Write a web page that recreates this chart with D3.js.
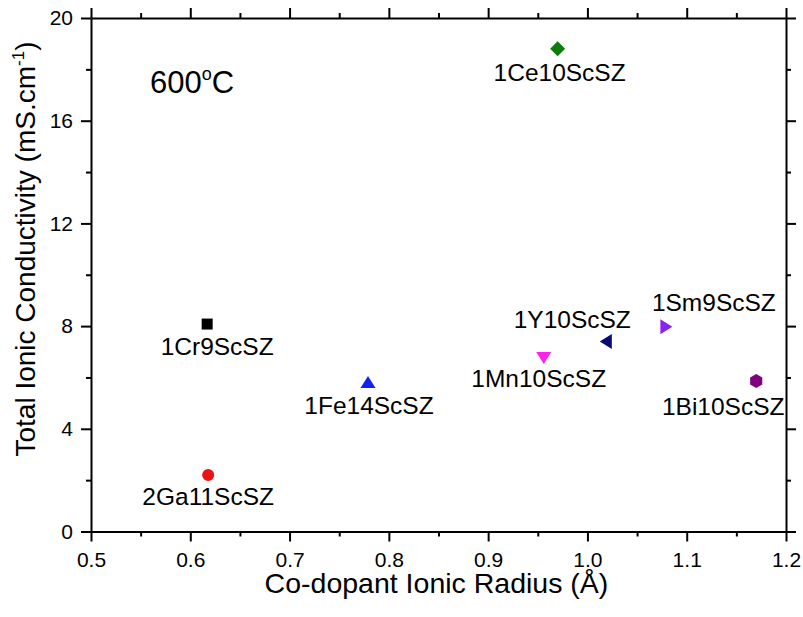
<!DOCTYPE html>
<html>
<head>
<meta charset="utf-8">
<script src="https://cdn.jsdelivr.net/npm/d3@7"></script>
<style>
  html, body { margin: 0; padding: 0; background: #fff; }
  text { font-family: "Liberation Sans", Arial, sans-serif; fill: #000; }
</style>
</head>
<body>
<svg id="chart" width="803" height="617"></svg>
<script>
// ---- data ----
const samples = ["1Cr9ScSZ", "2Ga11ScSZ", "1Fe14ScSZ", "1Ce10ScSZ", "1Mn10ScSZ", "1Y10ScSZ", "1Sm9ScSZ", "1Bi10ScSZ"];
const radius = [0.617, 0.618, 0.779, 0.97, 0.956, 1.019, 1.079, 1.17];
const conductivity = [8.08, 2.2, 5.8, 18.8, 6.78, 7.4, 7.97, 5.86];
const xTicks = [0.5, 0.6, 0.7, 0.8, 0.9, 1.0, 1.1, 1.2];
const yTicks = [0, 4, 8, 12, 16, 20];

// ---- styling / layout (kept separate from data) ----
const markers = ["square", "circle", "triangle", "diamond", "triangleDown", "triangleLeft", "triangleRight", "hexagon"];
const colors = ["#000000", "#ee1111", "#1122ee", "#0a7d0a", "#ff22ee", "#0a0a70", "#8a22f0", "#800080"];
const labelOffsets = [[10, 31], [0, 30], [1, 31], [2, 32], [-5, 30], [-34, -14], [48, -16], [-33, 34]];

const W = 803, H = 617;
const m = { left: 91, right: 17, top: 18, bottom: 85.5 };
const svg = d3.select("#chart");

const x = d3.scaleLinear().domain([0.5, 1.2]).range([m.left, W - m.right]);
const y = d3.scaleLinear().domain([0, 20]).range([H - m.bottom, m.top]);

const xMinor = d3.range(0.55, 1.2, 0.1);
const yMinor = d3.range(2, 20, 4);

function styleAxis(g) {
  g.select(".domain").attr("stroke", "#000").attr("stroke-width", 2);
  g.selectAll(".tick line").attr("stroke", "#000").attr("stroke-width", 2);
}

// bottom axis
const gx = svg.append("g").attr("transform", `translate(0,${y(0)})`)
  .call(d3.axisBottom(x).tickValues(xTicks).tickSize(10).tickSizeOuter(0).tickPadding(11).tickFormat(d3.format(".1f")));
gx.attr("font-size", 21).attr("font-family", "Liberation Sans, Arial, sans-serif");
styleAxis(gx);
gx.selectAll(".tick text").style("font-size", "21px").attr("fill", "#000");
svg.append("g").attr("transform", `translate(0,${y(0)})`)
  .call(d3.axisBottom(x).tickValues(xMinor).tickSize(5).tickFormat(""))
  .call(g => g.select(".domain").remove())
  .call(styleAxis);

// top axis
const gt = svg.append("g").attr("transform", `translate(0,${y(20)})`)
  .call(d3.axisTop(x).tickValues(xTicks).tickSize(10).tickSizeOuter(0).tickFormat(""));
styleAxis(gt);
svg.append("g").attr("transform", `translate(0,${y(20)})`)
  .call(d3.axisTop(x).tickValues(xMinor).tickSize(5).tickFormat(""))
  .call(g => g.select(".domain").remove())
  .call(styleAxis);

// left axis
const gy = svg.append("g").attr("transform", `translate(${x(0.5)},0)`)
  .call(d3.axisLeft(y).tickValues(yTicks).tickSize(10).tickSizeOuter(0).tickPadding(8));
gy.attr("font-size", 21).attr("font-family", "Liberation Sans, Arial, sans-serif");
styleAxis(gy);
gy.selectAll(".tick text").style("font-size", "21px").attr("fill", "#000");
svg.append("g").attr("transform", `translate(${x(0.5)},0)`)
  .call(d3.axisLeft(y).tickValues(yMinor).tickSize(5).tickFormat(""))
  .call(g => g.select(".domain").remove())
  .call(styleAxis);

// right axis
const gr = svg.append("g").attr("transform", `translate(${x(1.2)},0)`)
  .call(d3.axisRight(y).tickValues(yTicks).tickSize(10).tickSizeOuter(0).tickFormat(""));
styleAxis(gr);
svg.append("g").attr("transform", `translate(${x(1.2)},0)`)
  .call(d3.axisRight(y).tickValues(yMinor).tickSize(5).tickFormat(""))
  .call(g => g.select(".domain").remove())
  .call(styleAxis);

// axis titles
svg.append("text")
  .attr("x", (x(0.5) + x(1.2)) / 2 - 2).attr("y", 593)
  .attr("text-anchor", "middle").attr("font-size", 28.5)
  .text("Co-dopant Ionic Radius (Å)");

const yt = svg.append("text")
  .attr("transform", `translate(35,249) rotate(-90)`)
  .attr("text-anchor", "middle").attr("font-size", 28);
yt.append("tspan").text("Total Ionic Conductivity (mS.cm");
yt.append("tspan").attr("font-size", 17).attr("dy", -11).text("-1");
yt.append("tspan").attr("dy", 11).text(")");

// temperature annotation
const tt = svg.append("text").attr("x", 150).attr("y", 93).attr("font-size", 31);
tt.append("tspan").text("600");
tt.append("tspan").attr("font-size", 18).attr("dy", -13).text("o");
tt.append("tspan").attr("dy", 13).text("C");

// marker shapes
function markerPath(type) {
  const s = 7;
  switch (type) {
    case "square": return `M${-5.5},${-5.5}h11v11h-11z`;
    case "circle": return d3.symbol(d3.symbolCircle, 113)();
    case "triangle": return `M0,${-6.5}L${7.5},${5.5}L${-7.5},${5.5}Z`;
    case "triangleDown": return `M0,${6.5}L${7.5},${-5.5}L${-7.5},${-5.5}Z`;
    case "triangleLeft": return `M${-6.5},0L${5.5},${-7.5}L${5.5},${7.5}Z`;
    case "triangleRight": return `M${6.5},0L${-5.5},${-7.5}L${-5.5},${7.5}Z`;
    case "diamond": return `M0,${-7.5}L${7.5},0L0,${7.5}L${-7.5},0Z`;
    case "hexagon": {
      const pts = d3.range(6).map(i => {
        const a = Math.PI / 3 * i - Math.PI / 2;
        return [s * Math.cos(a), s * Math.sin(a)];
      });
      return "M" + pts.map(p => p.join(",")).join("L") + "Z";
    }
  }
}

const pts = samples.map((name, i) => ({ name, r: radius[i], c: conductivity[i], i }));

svg.append("g").selectAll("path")
  .data(pts).join("path")
  .attr("transform", d => `translate(${x(d.r)},${y(d.c)})`)
  .attr("d", d => markerPath(markers[d.i]))
  .attr("fill", d => colors[d.i]);

svg.append("g").selectAll("text")
  .data(pts).join("text")
  .attr("x", d => x(d.r) + labelOffsets[d.i][0])
  .attr("y", d => y(d.c) + labelOffsets[d.i][1])
  .attr("text-anchor", "middle")
  .attr("font-size", 24.5)
  .text(d => d.name);
</script>
</body>
</html>
